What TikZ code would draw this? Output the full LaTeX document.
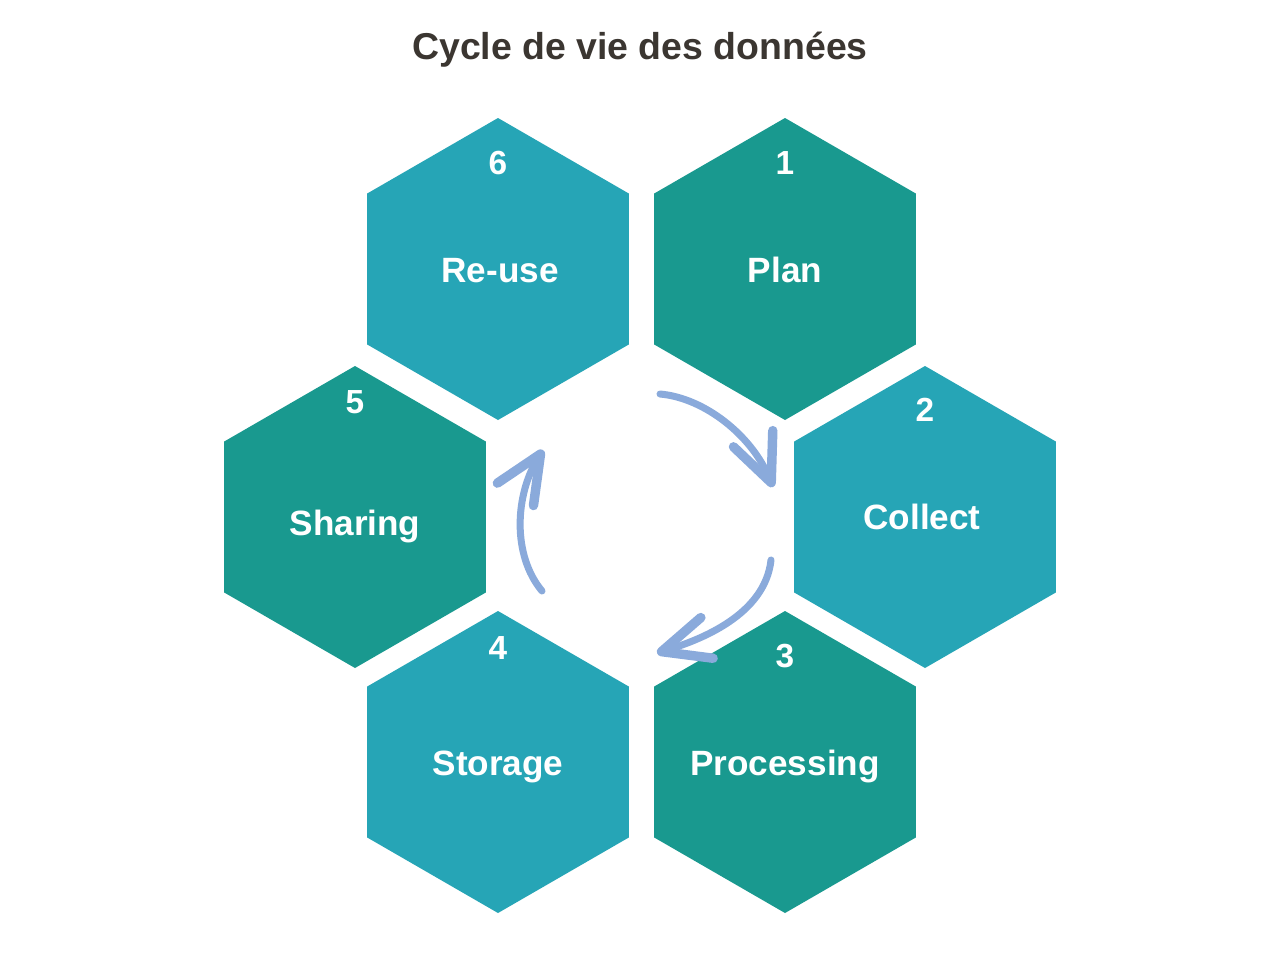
\documentclass[tikz,border=0pt]{standalone}
\usepackage{fontspec}
\setmainfont{Liberation Sans}
\usetikzlibrary{arrows.meta}
\definecolor{tealdark}{HTML}{19998F}
\definecolor{teallight}{HTML}{26A5B6}
\definecolor{cyclearrow}{HTML}{8AAADB}
\definecolor{titlegray}{HTML}{3B3631}

\begin{document}
\begin{tikzpicture}
[x=0.02cm, y=-0.02cm,
 num/.style={text=white, font=\fontsize{19}{19}\selectfont\bfseries, anchor=base, inner sep=0pt},
 lab/.style={text=white, font=\fontsize{20}{20}\selectfont\bfseries, anchor=base, inner sep=0pt},
 cyc/.style={draw=cyclearrow, line width=0.14cm, line cap=round,
   -{Straight Barb[round, length=0.95cm, width=0.85cm, line width=0pt 1.35]}}]
\fill[white] (0,0) rectangle (1280,960);
\useasboundingbox (0,0) rectangle (1280,960);
\node[text=titlegray, font=\fontsize{21.3}{21.3}\selectfont\bfseries] (title) at (640,50) {Cycle de vie des données};
% hexagons
\foreach \n/\x/\y/\c in {1/785/269/tealdark, 2/925/517/teallight, 3/785/762/tealdark,
  4/498/762/teallight, 5/355/517/tealdark, 6/498/269/teallight}
{
  \coordinate (h\n) at (\x,\y);
  \fill[\c] (h\n) +(90:151) -- +(150:151) -- +(210:151) -- +(270:151) -- +(330:151) -- +(30:151) -- cycle;
}
% numbers
\node[num] (n1) at (785,174) {1};
\node[num] (n2) at (925,421) {2};
\node[num] (n3) at (785,667) {3};
\node[num] (n4) at (498,659) {4};
\node[num] (n5) at (355,413) {5};
\node[num] (n6) at (498,174) {6};
% labels
\node[lab] (plan) at (785,282) {Plan};
\node[lab] (collect) at (922,529) {Collect};
\node[lab] (processing) at (785,775) {Processing};
\node[lab] (storage) at (498,775) {Storage};
\node[lab] (sharing) at (355,535) {Sharing};
\node[lab] (reuse) at (500,282) {Re-use};
% cycle arrows
\coordinate (a1s) at (660,394);
\coordinate (a1e) at (773,487);
\coordinate (a2s) at (771,560);
\coordinate (a2e) at (657,653);
\coordinate (a3s) at (542,591);
\coordinate (a3e) at (543,450);
\draw[cyc] (a1s) .. controls (705,398) and (752,436) .. (a1e);
\draw[cyc] (a2s) .. controls (765,615) and (700,640) .. (a2e);
\draw[cyc] (a3s) .. controls (512,555) and (515,495) .. (a3e);
\end{tikzpicture}
\end{document}
